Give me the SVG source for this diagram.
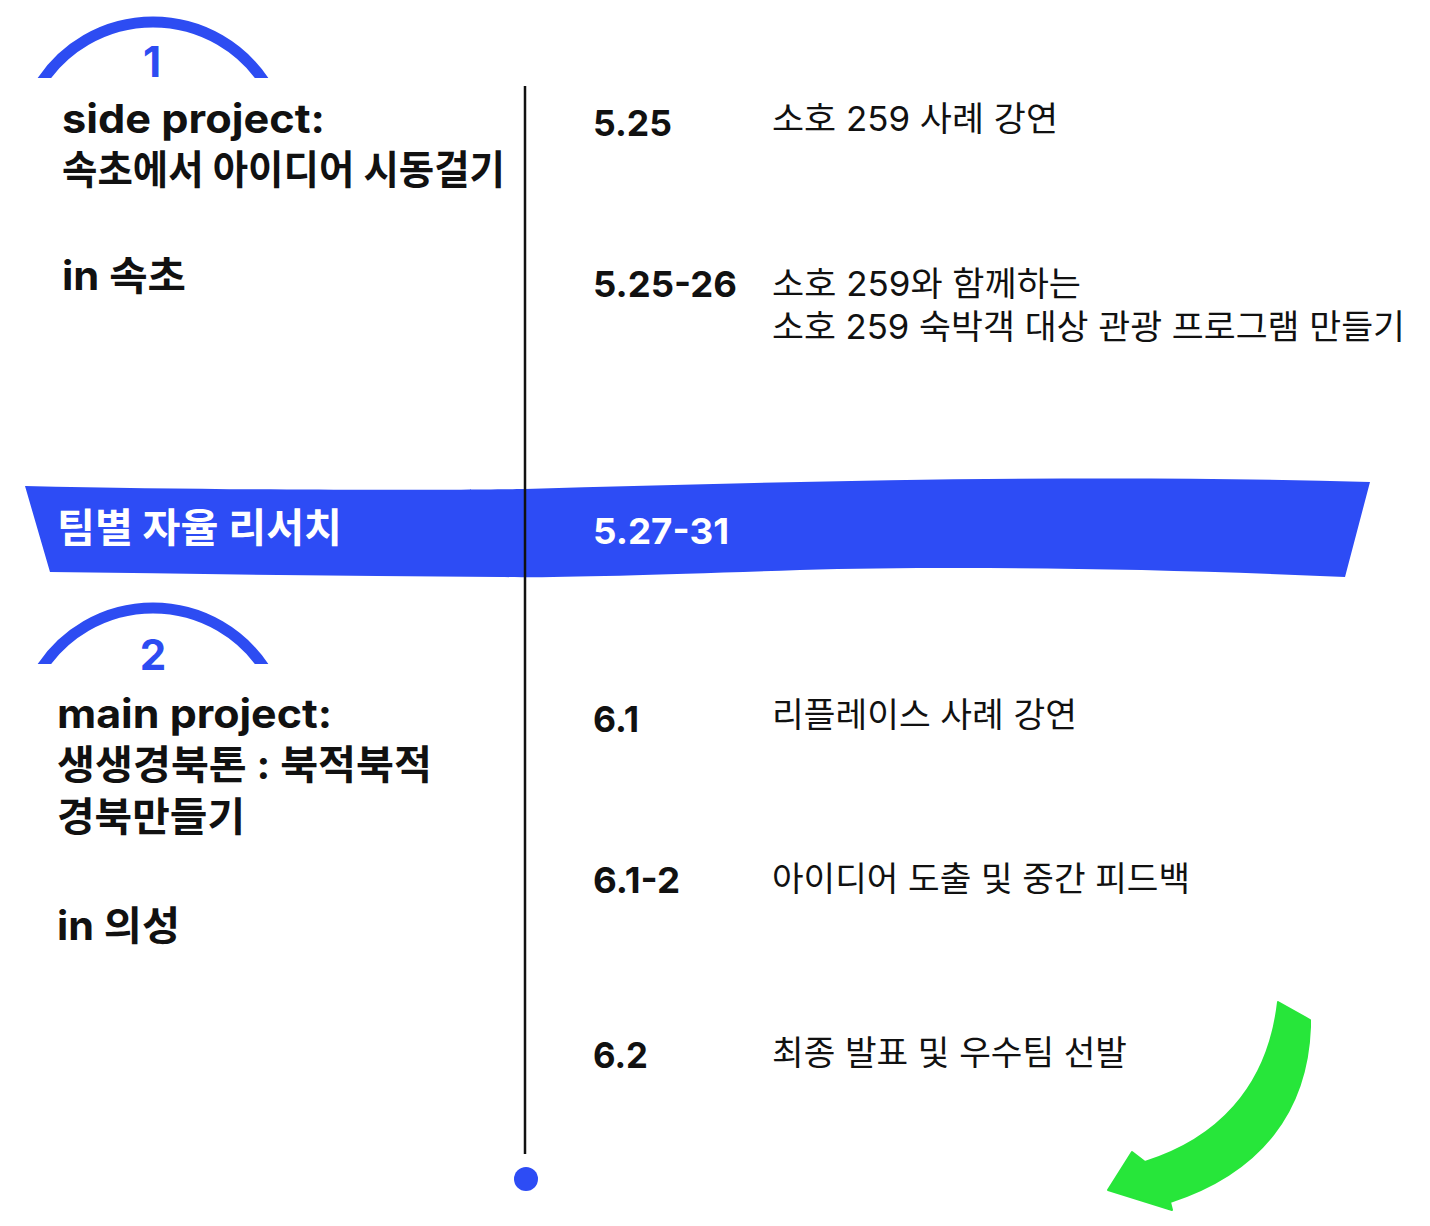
<svg xmlns="http://www.w3.org/2000/svg" width="1430" height="1226" viewBox="0 0 1430 1226">
<style>
.t{font-family:Inter,"Noto Sans CJK KR",sans-serif;fill:#111}
.b{font-weight:700}
.r{font-weight:400}
.w{fill:#fff}
.num{font-family:Inter,"Noto Sans CJK KR",sans-serif;font-weight:700;fill:#2d4cf2}
.arc{fill:none;stroke:#2d4cf2;stroke-width:11}
</style>
<defs>
<clipPath id="c1"><rect x="0" y="0" width="400" height="78"/></clipPath>
<clipPath id="c2"><rect x="0" y="580" width="400" height="84"/></clipPath>
</defs>
<rect width="1430" height="1226" fill="#fff"/>

<g id="band">
<path d="M25,486 C250,491 450,490 525,489 C800,481 1100,474 1370,482 L1345,577 C1150,568 950,566 800,570 C650,575 550,578 500,577 C350,576 200,574 50,572 Z" fill="#2d4cf5"/>
</g>

<g id="connectors">
<line x1="525" y1="86" x2="525" y2="1154" stroke="#111" stroke-width="2.5"/>
<circle cx="526" cy="1179" r="12" fill="#2d4cf5"/>
</g>

<g id="project1">
<path class="arc" clip-path="url(#c1)" d="M41.6,82 A133.5,133.5 0 0 1 264.4,82"/>
<text class="num" x="152" y="77" font-size="42" text-anchor="middle">1</text>
<text class="t b" x="62" y="133" font-size="40" textLength="263" lengthAdjust="spacingAndGlyphs">side project:</text>
<text class="t b" x="62" y="184" font-size="40" textLength="443" lengthAdjust="spacingAndGlyphs">속초에서 아이디어 시동걸기</text>
<text class="t b" x="62" y="290" font-size="40" textLength="124" lengthAdjust="spacingAndGlyphs">in 속초</text>
</g>

<g id="e525">
<text class="t b" x="593" y="136" font-size="36" textLength="79" lengthAdjust="spacingAndGlyphs">5.25</text>
<text class="t r" x="772" y="131" font-size="34" textLength="286" lengthAdjust="spacingAndGlyphs">소호 259 사례 강연</text>
</g>

<g id="e52526">
<text class="t b" x="593" y="297" font-size="36" textLength="144" lengthAdjust="spacingAndGlyphs">5.25-26</text>
<text class="t r" x="772" y="296" font-size="34" textLength="309" lengthAdjust="spacingAndGlyphs">소호 259와 함께하는</text>
<text class="t r" x="772" y="339" font-size="34" textLength="633" lengthAdjust="spacingAndGlyphs">소호 259 숙박객 대상 관광 프로그램 만들기</text>
</g>

<g id="research">
<text class="t b w" x="57" y="542" font-size="40" textLength="285" lengthAdjust="spacingAndGlyphs">팀별 자율 리서치</text>
<text class="t b w" x="593" y="544" font-size="36" textLength="136" lengthAdjust="spacingAndGlyphs">5.27-31</text>
</g>

<g id="project2">
<path class="arc" clip-path="url(#c2)" d="M41.6,668 A133.5,133.5 0 0 1 264.4,668"/>
<text class="num" x="153" y="670" font-size="42" text-anchor="middle">2</text>
<text class="t b" x="57" y="728" font-size="40" textLength="275" lengthAdjust="spacingAndGlyphs">main project:</text>
<text class="t b" x="57" y="779" font-size="40" textLength="375" lengthAdjust="spacingAndGlyphs">생생경북톤 : 북적북적</text>
<text class="t b" x="57" y="831" font-size="40" textLength="188" lengthAdjust="spacingAndGlyphs">경북만들기</text>
<text class="t b" x="57" y="940" font-size="40" textLength="123" lengthAdjust="spacingAndGlyphs">in 의성</text>
</g>

<g id="e61">
<text class="t b" x="593" y="732" font-size="36" textLength="46" lengthAdjust="spacingAndGlyphs">6.1</text>
<text class="t r" x="772" y="727" font-size="34" textLength="305" lengthAdjust="spacingAndGlyphs">리플레이스 사례 강연</text>
</g>

<g id="e612">
<text class="t b" x="593" y="893" font-size="36" textLength="87" lengthAdjust="spacingAndGlyphs">6.1-2</text>
<text class="t r" x="772" y="891" font-size="34" textLength="418" lengthAdjust="spacingAndGlyphs">아이디어 도출 및 중간 피드백</text>
</g>

<g id="e62">
<text class="t b" x="593" y="1068" font-size="36" textLength="55" lengthAdjust="spacingAndGlyphs">6.2</text>
<text class="t r" x="772" y="1065" font-size="34" textLength="355" lengthAdjust="spacingAndGlyphs">최종 발표 및 우수팀 선발</text>
</g>

<g id="arrow">
<path d="M1278,1002 L1310,1020 L1310,1027 C1307,1110 1262,1172 1170,1202 L1172,1210 L1108,1190 L1132,1152 L1145,1162 C1215,1140 1268,1090 1278,1002 Z" fill="#27e63a" stroke="#27e63a" stroke-width="2" stroke-linejoin="round"/>
</g>
</svg>
